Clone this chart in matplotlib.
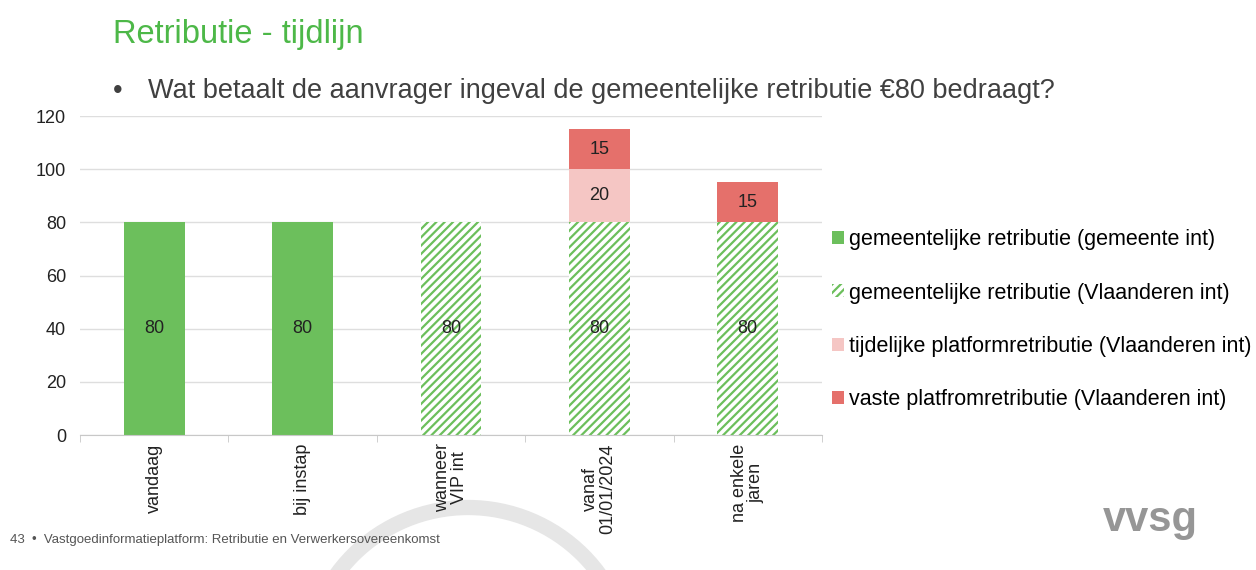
import numpy as np
import matplotlib.pyplot as plt
from matplotlib.patches import Arc, Patch

plt.rcParams['font.family'] = ['Liberation Sans', 'DejaVu Sans']
plt.rcParams['hatch.linewidth'] = 1.6

categories = ['vandaag', 'bij instap', 'wanneer\nVIP int', 'vanaf\n01/01/2024', 'na enkele\njaren']
gemeente_int = [80, 80, 0, 0, 0]
vlaanderen_int = [0, 0, 80, 80, 80]
tijdelijk = [0, 0, 0, 20, 0]
vast = [0, 0, 0, 15, 15]

labels = ['gemeentelijke retributie (gemeente int)',
          'gemeentelijke retributie (Vlaanderen int)',
          'tijdelijke platformretributie (Vlaanderen int)',
          'vaste platfromretributie (Vlaanderen int)']

green = '#6cbf5c'
pink = '#f5c6c4'
red = '#e5706b'

fig = plt.figure(figsize=(12.56, 5.7), dpi=100)

# decorative background arc
bg = fig.add_axes([0, 0, 1, 1], zorder=-1)
bg.set_xlim(0, 1256)
bg.set_ylim(570, 0)
bg.axis('off')
bg.add_patch(Arc((468, 670), 325, 325, theta1=180, theta2=360, color='#e6e6e6', linewidth=11))

ax = fig.add_axes([80 / 1256, 135 / 570, 742 / 1256, 319 / 570])
ax.patch.set_alpha(0)

x = np.arange(len(categories))
w = 0.41
g = np.array(gemeente_int)
v = np.array(vlaanderen_int)
t = np.array(tijdelijk)
r = np.array(vast)

ax.bar(x, g, w, color=green, zorder=2)
ax.bar(x, v, w, color='white', edgecolor=green, hatch='////', linewidth=0, zorder=2)
ax.bar(x, t, w, bottom=g + v, color=pink, zorder=2)
ax.bar(x, r, w, bottom=g + v + t, color=red, zorder=2)

for i in range(len(categories)):
    base = g[i] + v[i]
    ax.text(x[i], base / 2, str(base), ha='center', va='center', fontsize=13, color='#222222', zorder=3)
    if t[i]:
        ax.text(x[i], base + t[i] / 2, str(t[i]), ha='center', va='center', fontsize=13, color='#222222', zorder=3)
    if r[i]:
        ax.text(x[i], base + t[i] + r[i] / 2, str(r[i]), ha='center', va='center', fontsize=13, color='#222222', zorder=3)

ax.set_xlim(-0.5, len(categories) - 0.5)
ax.set_ylim(0, 120)
ax.set_yticks(np.arange(0, 121, 20))
ax.yaxis.grid(True, color='#dedede', linewidth=1, zorder=0)
ax.set_axisbelow(True)
for s in ['left', 'right', 'top']:
    ax.spines[s].set_visible(False)
ax.spines['bottom'].set_color('#c8c8c8')
ax.tick_params(axis='y', length=0, labelsize=13, pad=10, labelcolor='#222222')
ax.set_xticks(x)
ax.set_xticklabels(categories, rotation=90, fontsize=13, va='top', ha='center', linespacing=1.0,
                   color='#222222')
ax.tick_params(axis='x', length=0, pad=6)
ax.set_xticks(np.arange(-0.5, len(categories), 1), minor=True)
ax.tick_params(axis='x', which='minor', length=5, color='#c8c8c8')

handles = [Patch(facecolor=green),
           Patch(facecolor='white', edgecolor=green, hatch='////', linewidth=0),
           Patch(facecolor=pink),
           Patch(facecolor=red)]
fig.legend(handles, labels, loc='upper left', bbox_to_anchor=(815 / 1256, 1 - 212 / 570),
           frameon=False, fontsize=15.5, handlelength=0.55, handleheight=0.55,
           handletextpad=0.25, labelspacing=1.5, borderpad=0.3)

fig.text(113 / 1256, 1 - 34 / 570, 'Retributie - tijdlijn', fontsize=23.5, color='#4db848', va='center')
fig.text(113 / 1256, 1 - 91 / 570, '•', fontsize=19.5, color='#404040', va='center')
fig.text(148 / 1256, 1 - 91 / 570, 'Wat betaalt de aanvrager ingeval de gemeentelijke retributie €80 bedraagt?',
         fontsize=19.5, color='#404040', va='center')
fig.text(10 / 1256, 1 - 540 / 570, '43  •  Vastgoedinformatieplatform: Retributie en Verwerkersovereenkomst',
         fontsize=9.5, color='#555555', va='center')
fig.text(1150 / 1256, 1 - 520 / 570, 'vvsg', fontsize=30, fontweight='bold', color='#969696',
         ha='center', va='center')

fig.savefig('out.png', dpi=100)
